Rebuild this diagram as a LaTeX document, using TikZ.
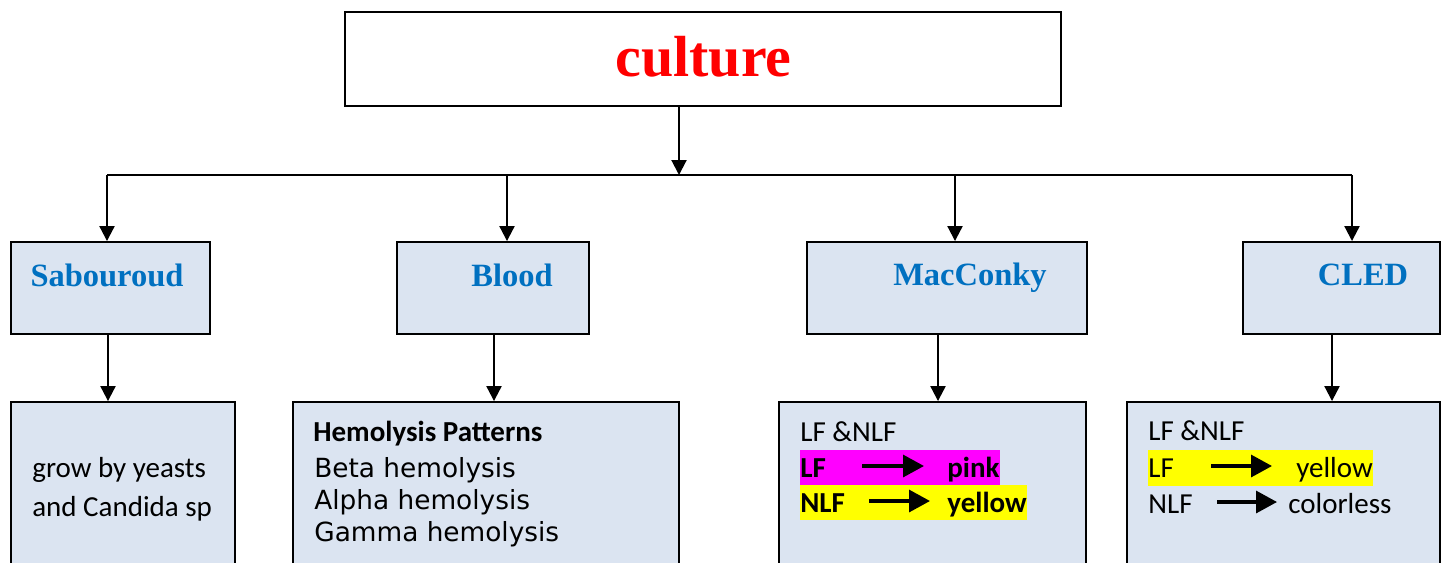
\documentclass[tikz,border=0pt]{standalone}
\usepackage{fontspec}
\setmainfont{Liberation Serif}
\newfontfamily\calibri{Carlito}
\newfontfamily\verdana{DejaVu Sans}
\usetikzlibrary{arrows.meta}
\definecolor{kotakbiru}{RGB}{219,228,241}
\definecolor{judulbiru}{RGB}{0,112,192}
\definecolor{stabilo}{RGB}{255,0,255}
\definecolor{kuning}{RGB}{255,255,0}
\definecolor{merah}{RGB}{255,0,0}
\tikzset{
  kotak/.style={draw, line width=1.1pt, fill=kotakbiru, inner sep=0pt},
  panah/.style={line width=1.2pt, -{Triangle[width=0.3cm,length=0.3cm]}},
  panahkecil/.style={line width=1.9pt, -{Triangle[width=0.44cm,length=0.42cm]}},
  judul/.style={font=\bfseries\fontsize{18.5}{20}\selectfont, text=judulbiru, anchor=base, inner sep=0pt},
  isi/.style={font=\calibri\fontsize{16.5}{20}\selectfont, anchor=base west, inner sep=0pt},
  isitebal/.style={isi, font=\calibri\bfseries\fontsize{16.5}{20}\selectfont},
  isiv/.style={font=\verdana\fontsize{15}{18}\selectfont, anchor=base west, inner sep=0pt}
}
\begin{document}
\begin{tikzpicture}[x=0.02cm, y=-0.02cm]
    \clip (0,0) rectangle (1443,562);
    % Kotak atas
    \node[draw, line width=1.1pt, fill=white, minimum width=14.32cm, minimum height=1.88cm] (top) at (703,59) {};
    \node[anchor=base, inner sep=0pt, text=merah, font=\bfseries\fontsize{33}{36}\selectfont] (culture) at (703.5,76.7) {culture};
    % Kotak media
    \node[kotak, minimum width=3.98cm, minimum height=1.84cm] (sab) at (110.5,288) {};
    \node[kotak, minimum width=3.84cm, minimum height=1.84cm] (blood) at (493,288) {};
    \node[kotak, minimum width=5.6cm, minimum height=1.84cm] (mac) at (947,288) {};
    \node[kotak, minimum width=3.94cm, minimum height=1.84cm] (cled) at (1341.5,288) {};
    \node[judul] (sabt) at (107,286) {Sabouroud};
    \node[judul] (bloodt) at (512,286) {Blood};
    \node[judul] (mact) at (970,285) {MacConky};
    \node[judul] (cledt) at (1363,285) {CLED};
    % Kotak bawah
    \node[kotak, minimum width=4.48cm, minimum height=4.36cm] (grow) at (123,511) {};
    \node[kotak, minimum width=7.72cm, minimum height=4.36cm] (hemo) at (486,511) {};
    \node[kotak, minimum width=6.14cm, minimum height=4.36cm] (lfa) at (932.5,511) {};
    \node[kotak, minimum width=6.26cm, minimum height=4.36cm] (lfb) at (1283.5,511) {};
    % Garis cabang
    \coordinate (bus) at (679,175);
    \coordinate (b1) at (107,175);
    \coordinate (b2) at (507,175);
    \coordinate (b3) at (955,175);
    \coordinate (b4) at (1352,175);
    \draw[line width=1.2pt] (b1) -- (b4);
    \draw[panah] (top.south -| bus) -- (bus);
    \draw[panah] (b1) -- (b1 |- sab.north);
    \draw[panah] (b2) -- (b2 |- blood.north);
    \draw[panah] (b3) -- (b3 |- mac.north);
    \draw[panah] (b4) -- (b4 |- cled.north);
    \draw[panah] ([xshift=-0.05cm]sab.south) -- ([xshift=-0.05cm]sab.south |- grow.north);
    \draw[panah] ([xshift=0.02cm]blood.south) -- ([xshift=0.02cm]blood.south |- hemo.north);
    \draw[panah] ([xshift=-0.18cm]mac.south) -- ([xshift=-0.18cm]mac.south |- lfa.north);
    \draw[panah] ([xshift=-0.19cm]cled.south) -- ([xshift=-0.19cm]cled.south |- lfb.north);
    % Sabouroud
    \node[isi] (g1) at (32,477) {grow by yeasts};
    \node[isi] (g2) at (32,516) {and Candida sp};
    % Blood
    \node[isitebal] (h0) at (313,441) {Hemolysis Patterns};
    \node[isiv] (h1) at (314,477) {Beta hemolysis};
    \node[isiv] (h2) at (314,509) {Alpha hemolysis};
    \node[isiv] (h3) at (314,541) {Gamma hemolysis};
    % MacConky
    \fill[stabilo] (800,450) rectangle (1000,484.5);
    \fill[kuning] (800,484.5) rectangle (1027,520);
    \node[isi] (m0) at (800,441) {LF \&NLF};
    \node[isitebal] (m1) at (800,477) {LF};
    \node[isitebal] (m2) at (947,477) {pink};
    \node[isitebal] (m3) at (800,512) {NLF};
    \node[isitebal] (m4) at (947,512) {yellow};
    \coordinate (ma1) at (862,466);
    \coordinate (ma2) at (924,466);
    \coordinate (mb1) at (869,501);
    \coordinate (mb2) at (930,501);
    \draw[panahkecil] (ma1) -- (ma2);
    \draw[panahkecil] (mb1) -- (mb2);
    % CLED
    \fill[kuning] (1148,450) rectangle (1373,486);
    \node[isi] (c0) at (1148,440) {LF \&NLF};
    \node[isi] (c1) at (1148,477) {LF};
    \node[isi] (c2) at (1296,477) {yellow};
    \node[isi] (c3) at (1148,513) {NLF};
    \node[isi] (c4) at (1288,513) {colorless};
    \coordinate (ca1) at (1211,466);
    \coordinate (ca2) at (1272,466);
    \coordinate (cb1) at (1217,502);
    \coordinate (cb2) at (1277,502);
    \draw[panahkecil] (ca1) -- (ca2);
    \draw[panahkecil] (cb1) -- (cb2);
\end{tikzpicture}
\end{document}
